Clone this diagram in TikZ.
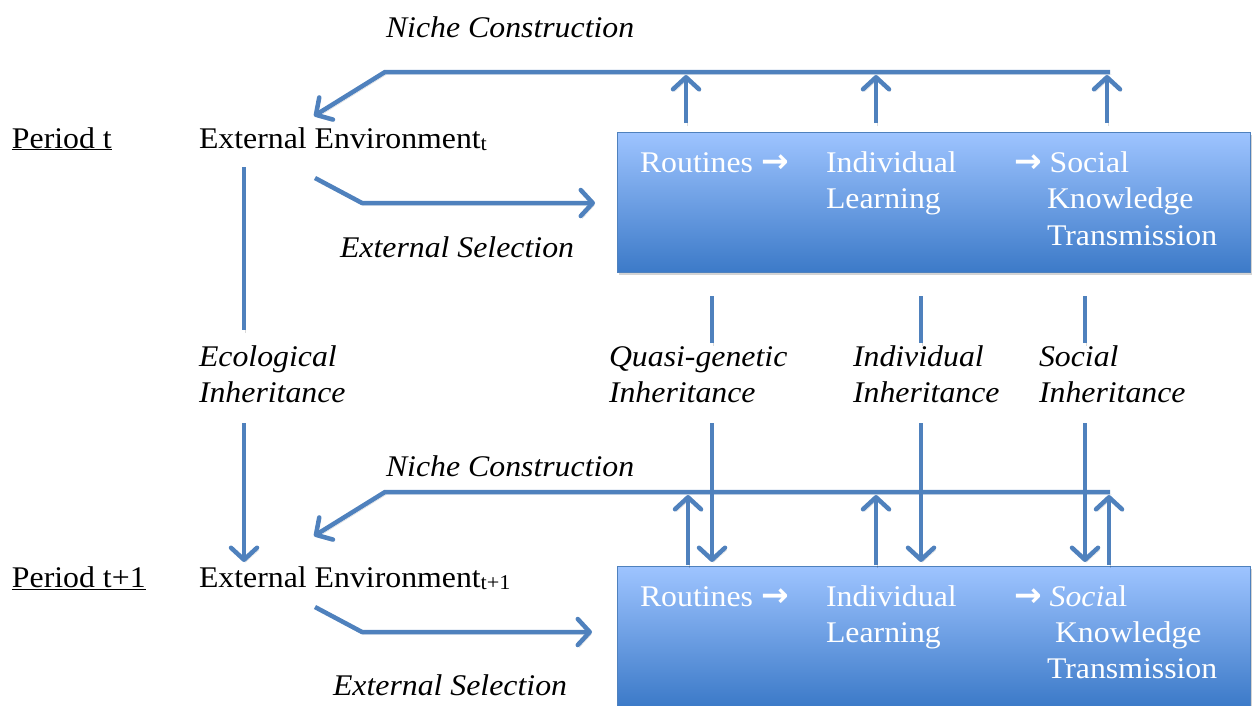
\documentclass[tikz,border=0pt]{standalone}
\usepackage{fontspec}
\setmainfont{Liberation Serif}[FakeStretch=1.06]
\newfontfamily\arrowfont{DejaVu Sans}
\usetikzlibrary{arrows.meta,shadows}
\definecolor{flowblue}{RGB}{79,129,189}
\definecolor{boxtop}{RGB}{158,196,255}
\definecolor{boxbottom}{RGB}{60,122,200}
\newcommand{\envsub}[1]{\raisebox{-2.5pt}{\fontsize{21}{21}\selectfont #1}}
\newcommand{\rarr}{{\arrowfont\bfseries\fontsize{33}{33}\selectfont →}}
\tikzset{
  lab/.style={inner sep=0pt, outer sep=0pt, anchor=base west, font=\fontsize{30}{36}\selectfont},
  itlab/.style={lab, font=\fontsize{30}{36}\selectfont\itshape},
  boxtxt/.style={lab, text=white},
  procbox/.style={anchor=north west, inner sep=0pt, outer sep=0pt,
    minimum width=633pt, minimum height=140pt,
    draw=flowblue, line width=0.8pt, top color=boxtop, bottom color=boxbottom,
    drop shadow={shadow xshift=2pt, shadow yshift=-3pt, opacity=0.35}},
  flow/.style={draw=flowblue, line width=4.5pt, line join=round,
    preaction={draw=black, opacity=0.15, transform canvas={shift={(1.5pt,-2.5pt)}}}},
  arr/.style={-{Straight Barb[length=12pt,width=26pt,line join=round,line cap=round]}}
}
\begin{document}
\begin{tikzpicture}[x=1pt,y=-1pt]
\useasboundingbox (0,0) rectangle (1252,705);
\clip (0,0) rectangle (1252,705);

% ---------- period t ----------
\node[lab] (pt) at (12,148) {\underline{Period t}};
\node[lab] (envt) at (199,148) {External Environment\envsub{t}};
\node[itlab] (nct) at (386,37) {Niche Construction};
\node[itlab] (est) at (340,257) {External Selection};

\node[procbox] (boxt) at (617,132) {};
\node[boxtxt] (rt) at (640,172) {Routines \rarr};
\node[boxtxt] (ilt) at (826,172) {Individual};
\node[boxtxt] (llt) at (826,208) {Learning};
\node[boxtxt] (st) at (1014,172) {\rarr\ Social};
\node[boxtxt] (kt) at (1047,208) {Knowledge};
\node[boxtxt] (tt) at (1047,245) {Transmission};

% ---------- inheritance labels ----------
\node[itlab] (eco1) at (199,366) {Ecological};
\node[itlab] (eco2) at (199,402) {Inheritance};
\node[itlab] (qg1) at (609,366) {Quasi-genetic};
\node[itlab] (qg2) at (609,402) {Inheritance};
\node[itlab] (ii1) at (853,366) {Individual};
\node[itlab] (ii2) at (853,402) {Inheritance};
\node[itlab] (si1) at (1039,366) {Social};
\node[itlab] (si2) at (1039,402) {Inheritance};

% ---------- period t+1 ----------
\node[lab] (pt1) at (12,587) {\underline{Period t+1}};
\node[lab] (envt1) at (199,587) {External Environment\envsub{t+1}};
\node[itlab] (ncb) at (386,476) {Niche Construction};
\node[itlab] (esb) at (333,695) {External Selection};

\node[procbox] (boxb) at (617,566) {};
\node[boxtxt] (rb) at (640,606) {Routines \rarr};
\node[boxtxt] (ilb) at (826,606) {Individual};
\node[boxtxt] (llb) at (826,642) {Learning};
\node[boxtxt] (sb) at (1014,606) {\rarr\ \textit{Soci}al};
\node[boxtxt] (kb) at (1055,642) {Knowledge};
\node[boxtxt] (tb) at (1047,678) {Transmission};

% ---------- niche construction loops ----------
\coordinate (nctR) at (1110,72);
\coordinate (nctL) at (385,72);
\coordinate (nctTip) at (314,116);
\draw[flow,arr] (nctR) -- (nctL) -- (nctTip);
\foreach \i/\x in {1/686,2/876,3/1107}{
  \coordinate (tu\i s) at (\x,123);
  \coordinate (tu\i e) at (\x,75);
  \draw[flow,arr] (tu\i s) -- (tu\i e);
}

\coordinate (ncbR) at (1110,492);
\coordinate (ncbL) at (385,492);
\coordinate (ncbTip) at (314,536);
\draw[flow,arr] (ncbR) -- (ncbL) -- (ncbTip);
\foreach \i/\x in {1/688,2/876,3/1109}{
  \coordinate (bu\i s) at (\x,565);
  \coordinate (bu\i e) at (\x,495);
  \draw[flow,arr] (bu\i s) -- (bu\i e);
}

% ---------- external selection ----------
\coordinate (estA) at (315,178);
\coordinate (estB) at (362,203);
\coordinate (estC) at (595,203);
\draw[flow,arr] (estA) -- (estB) -- (estC);
\coordinate (esbA) at (315,607);
\coordinate (esbB) at (362,632);
\coordinate (esbC) at (592,632);
\draw[flow,arr] (esbA) -- (esbB) -- (esbC);

% ---------- ecological inheritance ----------
\coordinate (ecoA) at (244,167);
\coordinate (ecoB) at (244,330);
\coordinate (ecoC) at (244,423);
\coordinate (ecoD) at (244,562);
\draw[flow] (ecoA) -- (ecoB);
\draw[flow,arr] (ecoC) -- (ecoD);

% ---------- box-to-box inheritance ----------
\foreach \i/\x in {1/712,2/921,3/1085}{
  \coordinate (ih\i a) at (\x,296);
  \coordinate (ih\i b) at (\x,343);
  \coordinate (ih\i c) at (\x,423);
  \coordinate (ih\i d) at (\x,562);
  \draw[flow] (ih\i a) -- (ih\i b);
  \draw[flow,arr] (ih\i c) -- (ih\i d);
}
\end{tikzpicture}
\end{document}
